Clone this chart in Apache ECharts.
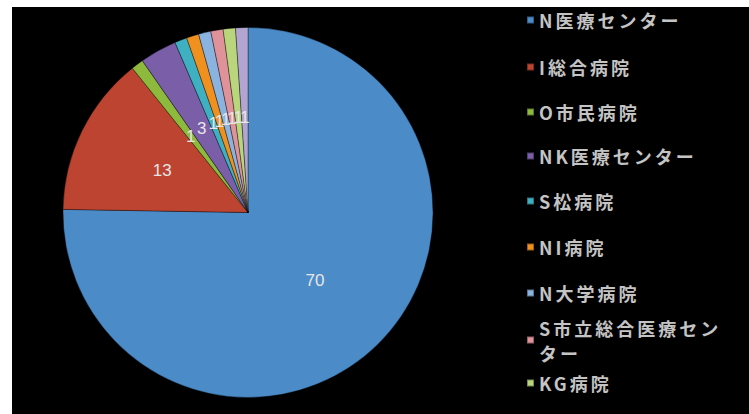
<!DOCTYPE html>
<html>
<head>
<meta charset="utf-8">
<script src="https://cdn.jsdelivr.net/npm/echarts@6/dist/echarts.min.js"></script>
<style>
html,body{margin:0;padding:0;background:#ffffff;width:749px;height:414px;overflow:hidden;}
#chart{position:absolute;left:12px;top:7px;width:737px;height:407px;}
#chart svg text[style*="bold"], #chart svg text[font-weight="bold"]{letter-spacing:3px;}
</style>
</head>
<body>
<div id="chart"></div>
<script>
// Data
const categories = ['N医療センター','I総合病院','O市民病院','NK医療センター','S松病院','NI病院','N大学病院','S市立総合医療センター','KG病院','その他'];
const values = [70, 13, 1, 3, 1, 1, 1, 1, 1, 1];
const legendNames = ['N医療センター','I総合病院','O市民病院','NK医療センター','S松病院','NI病院','N大学病院','S市立総合医療センター','KG病院'];
const colors = ['#4a8bc8','#bd4431','#8dba3c','#7a5ea8','#3fb0c2','#f0901f','#8ab3e0','#e0929a','#b9d67c','#b3a5d2'];

const chart = echarts.init(document.getElementById('chart'), null, {renderer: 'svg'});

const legendFont = {fontFamily:'"Noto Sans CJK JP", "Noto Sans", sans-serif', fontSize:18, fontWeight:'bold', color:'#c4c4c4'};
const legendCenters = [13, 60, 105, 149, 194, 240, 286, 333, 376];
const legends = legendNames.map((name, i) => {
  const wrapped = name === 'S市立総合医療センター';
  const lh = wrapped ? 25 : 22;
  return {
    orient: 'vertical',
    left: 514,
    top: wrapped ? legendCenters[i] - 37.5 : legendCenters[i] - lh / 2,
    padding: 0,
    itemWidth: 7,
    itemHeight: 7,
    itemGap: 0,
    icon: 'rect',
    selectedMode: false,
    data: [name],
    formatter: wrapped ? 'S市立総合医療セン\nター' : '{name}',
    textStyle: Object.assign({}, legendFont, {lineHeight: lh, padding: wrapped ? [lh, 0, 0, 0] : 0})
  };
});

chart.setOption({
  backgroundColor: '#000000',
  color: colors,
  animation: false,
  legend: legends,
  series: [{
    type: 'pie',
    center: [236, 205.5],
    radius: 185,
    startAngle: 90,
    clockwise: true,
    avoidLabelOverlap: false,
    minShowLabelAngle: 0,
    labelLayout: {hideOverlap: false},
    data: categories.map((c, i) => ({name: c, value: values[i]})),
    label: {
      show: true,
      position: 'inside',
      formatter: '{c}',
      color: '#e6e6e6',
      fontSize: 17,
      fontFamily: '"Liberation Sans", Arial, sans-serif'
    },
    labelLine: {show: false},
    itemStyle: {borderColor: 'rgba(0,0,0,0.35)', borderWidth: 1},
    emphasis: {disabled: true}
  }]
});
</script>
</body>
</html>
